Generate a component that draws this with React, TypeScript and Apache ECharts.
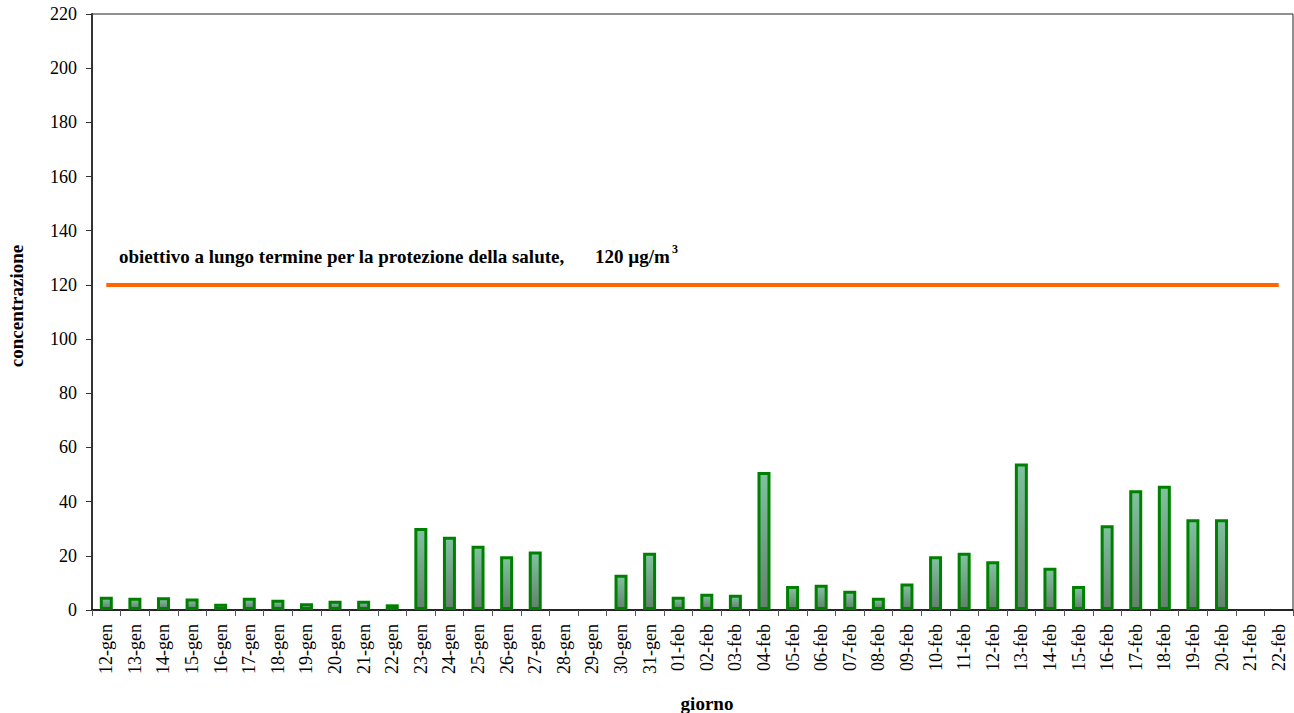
import React, { useEffect, useRef } from "react";
import * as echarts from "echarts";

const categories = [
  "12-gen", "13-gen", "14-gen", "15-gen", "16-gen", "17-gen", "18-gen", "19-gen", "20-gen", "21-gen",
  "22-gen", "23-gen", "24-gen", "25-gen", "26-gen", "27-gen", "28-gen", "29-gen", "30-gen", "31-gen",
  "01-feb", "02-feb", "03-feb", "04-feb", "05-feb", "06-feb", "07-feb", "08-feb", "09-feb", "10-feb",
  "11-feb", "12-feb", "13-feb", "14-feb", "15-feb", "16-feb", "17-feb", "18-feb", "19-feb", "20-feb",
  "21-feb", "22-feb",
];

const concentration: (number | null)[] = [
  4.9, 4.5, 4.7, 4.2, 2.3, 4.5, 3.8, 2.5, 3.4, 3.4,
  2.1, 30.3, 27.0, 23.7, 19.8, 21.6, null, null, 13.0, 21.1,
  4.9, 6.0, 5.6, 50.9, 8.9, 9.3, 7.1, 4.5, 9.8, 19.8,
  21.1, 18.0, 54.1, 15.6, 8.9, 31.3, 44.2, 45.9, 33.5, 33.5,
  null, null,
];

const thresholdValue = 120;
const threshold = categories.map(() => thresholdValue);

const yTicks = { min: 0, max: 220, interval: 20 };

const FONT = "Liberation Serif";

const txt = (text: string, size: number, extra: Record<string, unknown> = {}) => ({
  text,
  fontFamily: FONT,
  fontSize: size,
  fontWeight: "bold",
  fill: "#000",
  ...extra,
});

export default function App() {
  const ref = useRef<HTMLDivElement>(null);
  useEffect(() => {
    document.body.style.margin = "0";
    if (!ref.current) return;
    const chart = echarts.init(ref.current, null, { renderer: "svg" });
    chart.setOption({
      animation: false,
      backgroundColor: "#ffffff",
      textStyle: { fontFamily: FONT },
      grid: {
        left: 92,
        top: 14,
        right: 1,
        bottom: 103,
        show: true,
        borderColor: "#222",
        borderWidth: 1,
        containLabel: false,
      },
      xAxis: {
        type: "category",
        data: categories,
        boundaryGap: true,
        axisLine: { lineStyle: { color: "#000", width: 1.5 } },
        axisTick: { show: true, alignWithLabel: false, length: 6, lineStyle: { color: "#555" } },
        axisLabel: {
          rotate: 90,
          interval: 0,
          margin: 14,
          fontFamily: FONT,
          fontSize: 18,
          color: "#000",
        },
        splitLine: { show: false },
      },
      yAxis: {
        type: "value",
        min: yTicks.min,
        max: yTicks.max,
        interval: yTicks.interval,
        axisLine: { show: true, lineStyle: { color: "#333", width: 2 } },
        axisTick: { show: true, inside: false, length: 6, lineStyle: { color: "#333" } },
        axisLabel: { fontFamily: FONT, fontSize: 18, color: "#000", margin: 15 },
        splitLine: { show: false },
      },
      series: [
        {
          type: "bar",
          data: concentration,
          barWidth: 13,
          itemStyle: {
            color: {
              type: "linear",
              x: 0, y: 0, x2: 0, y2: 1,
              colorStops: [
                { offset: 0, color: "#80c2a0" },
                { offset: 1, color: "#64806e" },
              ],
            },
            borderColor: "#008000",
            borderWidth: 3,
          },
        },
        {
          type: "line",
          data: threshold,
          symbol: "none",
          lineStyle: { color: "#ff6600", width: 4 },
          z: 3,
        },
      ],
      graphic: [
        {
          type: "text",
          x: 119,
          y: 256,
          style: txt("obiettivo a lungo termine per la protezione della salute,", 19, {
            verticalAlign: "middle",
          }),
        },
        {
          type: "text",
          x: 595,
          y: 256,
          style: txt("120 µg/m", 19, { verticalAlign: "middle" }),
        },
        {
          type: "text",
          x: 672,
          y: 249,
          style: txt("3", 12, { verticalAlign: "middle" }),
        },
        {
          type: "text",
          x: 16,
          y: 306,
          rotation: Math.PI / 2,
          style: txt("concentrazione", 19, { align: "center", verticalAlign: "middle" }),
        },
        {
          type: "text",
          x: 707,
          y: 703,
          style: txt("giorno", 19, { align: "center", verticalAlign: "middle" }),
        },
      ],
    });
    return () => chart.dispose();
  }, []);
  return (
    <div
      ref={ref}
      style={{ position: "fixed", left: 0, top: 0, width: 1294, height: 713 }}
    />
  );
}
